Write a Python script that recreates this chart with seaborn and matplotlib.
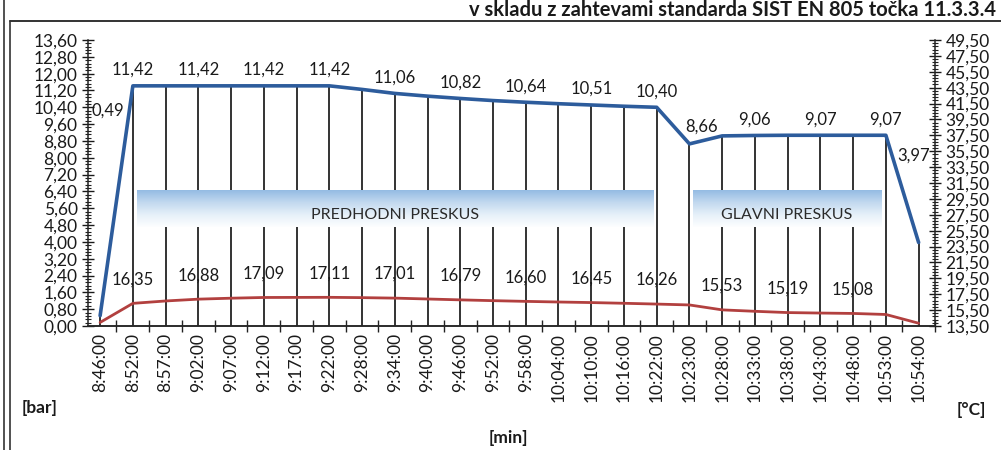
import numpy as np
import matplotlib
matplotlib.use("Agg")
import matplotlib.pyplot as plt
import seaborn as sns
from matplotlib.colors import LinearSegmentedColormap
from matplotlib.ticker import FuncFormatter, MultipleLocator, FixedLocator
from matplotlib.lines import Line2D

# ---- data -------------------------------------------------------------
times = ["8:46:00", "8:52:00", "8:57:00", "9:02:00", "9:07:00", "9:12:00",
         "9:17:00", "9:22:00", "9:28:00", "9:34:00", "9:40:00", "9:46:00",
         "9:52:00", "9:58:00", "10:04:00", "10:10:00", "10:16:00", "10:22:00",
         "10:23:00", "10:28:00", "10:33:00", "10:38:00", "10:43:00", "10:48:00",
         "10:53:00", "10:54:00"]

pressure_bar = [0.49, 11.42, 11.42, 11.42, 11.42, 11.42, 11.42, 11.42, 11.25,
                11.06, 10.93, 10.82, 10.72, 10.64, 10.57, 10.51, 10.45, 10.40,
                8.66, 9.04, 9.06, 9.07, 9.07, 9.07, 9.07, 3.97]

temperature_c = [13.95, 16.35, 16.65, 16.88, 17.00, 17.09, 17.10, 17.11, 17.07,
                 17.01, 16.90, 16.79, 16.69, 16.60, 16.52, 16.45, 16.36, 16.26,
                 16.15, 15.53, 15.35, 15.19, 15.13, 15.08, 14.95, 13.85]

# points that carry a value label
pressure_label_idx = [0, 1, 3, 5, 7, 9, 11, 13, 15, 17, 18, 20, 22, 24, 25]
temperature_label_idx = [1, 3, 5, 7, 9, 11, 13, 15, 17, 19, 21, 23]

phases = [("PREDHODNI PRESKUS", 1.13, 16.9), ("GLAVNI PRESKUS", 18.1, 23.85)]

# ---- style ------------------------------------------------------------
sns.set_theme(style="ticks")
plt.rcParams["font.family"] = ["Lato", "DejaVu Sans"]
plt.rcParams["axes.linewidth"] = 1.1

BLUE = "#2d5c9c"
RED = "#b2403f"
TXT = "#1a1a1a"
TICK_FS = 12.5

fig = plt.figure(figsize=(10.01, 4.5), dpi=100)
W, H = 1001, 450
ax = fig.add_axes([88 / W, 1 - 326 / H, (935 - 88) / W, (326 - 40) / H])
ax2 = ax.twinx()

x = np.arange(len(times))
comma = FuncFormatter(lambda v, _: f"{v:.2f}".replace(".", ","))

# drop lines from the pressure curve to the time axis
ax.vlines(x, 0, pressure_bar, color="#111111", lw=1.2, zorder=1)

# pressure curve
sns.lineplot(x=x, y=pressure_bar, ax=ax, color=BLUE, lw=2.6, zorder=4)

# phase bands with a blue-to-white fade
band_lo, band_hi = 4.7, 6.45
cmap = LinearSegmentedColormap.from_list(
    "band", ["#fdfeff", "#e6f0f9", "#c2d9ef", "#94bbe3"])
grad = np.linspace(0, 1, 128).reshape(-1, 1)
for name, x0, x1 in phases:
    ax.imshow(grad, extent=(x0, x1, band_lo, band_hi), origin="lower",
              cmap=cmap, aspect="auto", zorder=2, interpolation="bicubic")
    ax.text((x0 + x1) / 2, 5.3, name, ha="center", va="center",
            fontsize=11.5, color="#2a2a2a", zorder=3)

# pressure value labels
p_offsets = {0: (8, 205), 18: (12, 17), 25: (-5, 87)}
for i in pressure_label_idx:
    dx, dy = p_offsets.get(i, (0, 16))
    ax.annotate(f"{pressure_bar[i]:.2f}".replace(".", ","),
                (x[i], pressure_bar[i]), xytext=(dx, dy),
                textcoords="offset pixels", ha="center", va="center",
                fontsize=12, color=TXT, zorder=5)

# temperature curve
sns.lineplot(x=x, y=temperature_c, ax=ax2, color=RED, lw=2.0, zorder=4)
for i in temperature_label_idx:
    ax2.annotate(f"{temperature_c[i]:.2f}".replace(".", ","),
                 (x[i], temperature_c[i]), xytext=(0, 24),
                 textcoords="offset pixels", ha="center", va="center",
                 fontsize=12, color=TXT, zorder=5)

# ---- axes -------------------------------------------------------------
ax.set_xlim(-0.37, 25.45)
ax.set_ylim(0, 13.6)
ax2.set_ylim(13.5, 49.5)

ax.yaxis.set_major_locator(MultipleLocator(0.8))
ax.yaxis.set_minor_locator(MultipleLocator(0.16))
ax.yaxis.set_major_formatter(comma)
ax2.yaxis.set_major_locator(FixedLocator(np.arange(13.5, 49.51, 2.0)))
ax2.yaxis.set_minor_locator(FixedLocator(np.arange(13.5, 49.51, 0.4)))
ax2.yaxis.set_major_formatter(comma)

ax.set_xticks(x)
ax.set_xticklabels(times, rotation=90)
ax.set_xticks(x + 0.5, minor=True)
ax.tick_params(axis="x", which="major", length=0, pad=5, labelsize=TICK_FS,
               colors=TXT)
ax.tick_params(axis="x", which="minor", direction="inout", length=8,
               width=1.0, color="#222222")
ax.tick_params(axis="y", which="major", direction="inout", length=9,
               width=1.0, labelsize=TICK_FS, pad=3, colors=TXT)
ax.tick_params(axis="y", which="minor", direction="inout", length=4,
               width=0.8, color="#222222")
ax2.tick_params(axis="y", which="major", direction="inout", length=9,
                width=1.0, labelsize=TICK_FS, pad=3, colors=TXT)
ax2.tick_params(axis="y", which="minor", direction="inout", length=4,
                width=0.8, color="#222222")

for a in (ax, ax2):
    a.spines["top"].set_visible(False)
    a.set_xlabel("")
    a.set_ylabel("")
    a.grid(False)
ax.spines["right"].set_visible(False)
ax2.spines["left"].set_visible(False)
for s in ("left", "bottom"):
    ax.spines[s].set_color("#222222")
ax2.spines["right"].set_color("#222222")

# unit captions
fig.text(40 / W, 1 - 408 / H, "[bar]", ha="center", va="center",
         fontsize=12.5, fontweight="bold", color=TXT)
fig.text(508 / W, 1 - 438 / H, "[min]", ha="center", va="center",
         fontsize=12.5, fontweight="bold", color=TXT)
fig.text(971 / W, 1 - 410 / H, "[°C]", ha="center", va="center",
         fontsize=12.5, fontweight="bold", color=TXT)

# heading and frame
fig.text(996 / W, 1 - 16 / H,
         "v skladu z zahtevami standarda SIST EN 805 točka 11.3.3.4",
         ha="right", va="baseline", fontsize=14.5, fontweight="bold",
         color=TXT)
fig.add_artist(Line2D([10 / W, 1], [1 - 21 / H, 1 - 21 / H],
                      transform=fig.transFigure, color="#333333", lw=1.4))
fig.add_artist(Line2D([4 / W, 4 / W], [0, 1], transform=fig.transFigure,
                      color="#333333", lw=1.2))
fig.add_artist(Line2D([10 / W, 10 / W], [0, 1 - 21 / H],
                      transform=fig.transFigure, color="#333333", lw=1.2))

fig.savefig("out.png", dpi=100, facecolor="white")
